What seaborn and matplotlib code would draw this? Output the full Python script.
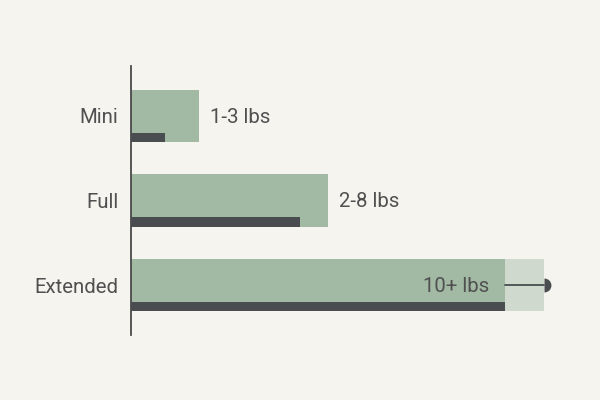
import seaborn as sns
import matplotlib.pyplot as plt
import pandas as pd

categories = ['Mini', 'Full', 'Extended']
capacity_max = [3.0, 8.7, 16.5]
capacity_typ = [1.5, 7.45, 16.5]
range_labels = ['1-3 lbs', '2-8 lbs', '10+ lbs']
extended_reach = 18.25

bg = '#F5F4EF'
green = '#A2B9A4'
dark = '#4A4D4F'
light = '#CFD9CE'
text_col = '#505050'

sns.set_theme(style='white')
plt.rcParams['font.family'] = ['Roboto', 'DejaVu Sans']

df = pd.DataFrame({'size': categories, 'max': capacity_max, 'typ': capacity_typ})

fig = plt.figure(figsize=(6, 4), dpi=100, facecolor=bg)
ax = fig.add_axes([131 / 600, 65 / 400, 0.755, 269 / 400])
ax.set_facecolor(bg)

bar_h = 0.615
thin_h = 0.107

# light extension for the open-ended class
ax.barh(2, extended_reach - capacity_max[2], left=capacity_max[2], height=bar_h,
        color=light, linewidth=0, zorder=1)

sns.barplot(data=df, y='size', x='max', orient='h', color=green, width=bar_h,
            saturation=1, linewidth=0, edgecolor='none', ax=ax, zorder=2)

offset = bar_h / 2 - thin_h / 2
ax.barh([i + offset for i in range(len(categories))], df['typ'], height=thin_h,
        color=dark, linewidth=0, zorder=3)

# arrow to the end of the extension
ax.plot([capacity_max[2], extended_reach], [2, 2], color=dark, lw=1.3, zorder=4)
ax.plot(extended_reach, 2, marker='o', markersize=10, fillstyle='right',
        markerfacecolor=dark, markerfacecoloralt='none', markeredgewidth=0,
        zorder=5, clip_on=False)

for i, (v, lab) in enumerate(zip(capacity_max, range_labels)):
    if i == 2:
        ax.annotate(lab, (v, i), xytext=(-11, -1), textcoords='offset points',
                    ha='right', va='center', fontsize=14.7, color=text_col, zorder=6)
    else:
        ax.annotate(lab, (v, i), xytext=(8, -1), textcoords='offset points',
                    ha='left', va='center', fontsize=14.7, color=text_col)

ax.set_xlim(0, 20)
ax.set_ylim(2.59, -0.59)
ax.set_xlabel('')
ax.set_ylabel('')
ax.set_xticks([])
ax.tick_params(axis='y', length=0, pad=9, labelsize=14.7, labelcolor=text_col)
for s in ['top', 'right', 'bottom']:
    ax.spines[s].set_visible(False)
ax.spines['left'].set_color('#4a4a4a')
ax.spines['left'].set_linewidth(1.3)

plt.savefig('out.png', dpi=100, facecolor=bg)
